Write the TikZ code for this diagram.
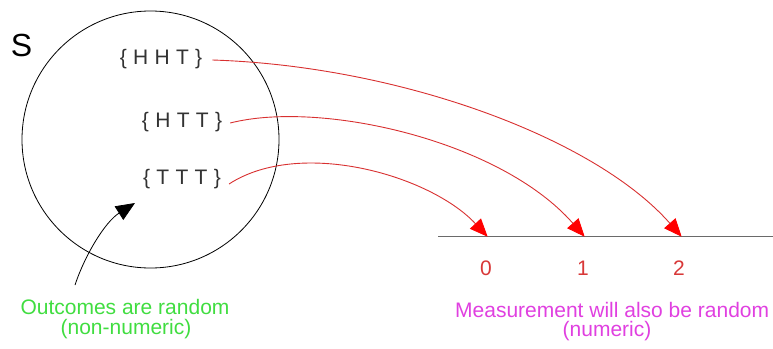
\documentclass[tikz,border=0pt]{standalone}
\usepackage{fontspec}
\setmainfont{Liberation Sans}
\usetikzlibrary{arrows.meta}
\definecolor{setgray}{HTML}{333333}
\definecolor{arrred}{HTML}{D83030}
\definecolor{headred}{HTML}{FF0000}
\definecolor{numred}{HTML}{D83838}
\definecolor{lgreen}{HTML}{40DD40}
\definecolor{lmag}{HTML}{E040E0}
\definecolor{axisgray}{HTML}{6A6A6A}
\newcommand{\outcometext}[1]{{\spaceskip=6.3pt plus 0pt minus 0pt\relax #1}}
\tikzset{
  settext/.style={text=setgray, inner sep=0pt, font=\fontsize{21}{24}\selectfont},
  maparrow/.style={draw=arrred, line width=0.9pt, -{Triangle[length=18pt,width=15pt,color=headred]}, shorten >=-1pt},
  numlabel/.style={text=numred, inner sep=0pt, font=\fontsize{21}{24}\selectfont},
  greentext/.style={text=lgreen, inner sep=0pt, font=\fontsize{21}{24}\selectfont},
  magtext/.style={text=lmag, inner sep=0pt, font=\fontsize{21}{24}\selectfont},
}
\begin{document}
\begin{tikzpicture}[x=1pt,y=-1pt]
\useasboundingbox (0,0) rectangle (773,348);
% sample space
\node[circle, draw=black, line width=0.8pt, minimum size=257pt, inner sep=0pt] (space) at (150.5,139.5) {};
\node[inner sep=0pt, font=\fontsize{32}{34}\selectfont] (S) at (21.5,45) {S};
% outcomes
\node[settext] (hht) at (161,59) {\outcometext{\{ H H T \}}};
\node[settext] (htt) at (182,122) {\outcometext{\{ H T T \}}};
\node[settext] (ttt) at (182,179) {\outcometext{\{ T T T \}}};
% axis
\coordinate (axL) at (438,236.5);
\coordinate (axR) at (773,236.5);
\draw[draw=axisgray, line width=1.6pt] (axL) -- (axR);
\coordinate (t0) at (487,236);
\coordinate (t1) at (584,236);
\coordinate (t2) at (681,236);
\node[numlabel] (n0) at (486,268) {0};
\node[numlabel] (n1) at (583,268) {1};
\node[numlabel] (n2) at (679,268) {2};
% mapping arrows
\draw[maparrow] ([xshift=10pt,yshift=-1pt]hht.east) .. controls (400,66) and (595,138) .. (t2);
\draw[maparrow] ([xshift=8pt,yshift=-1pt]htt.east) .. controls (320,100) and (500,140) .. (t1);
\draw[maparrow] ([xshift=8pt,yshift=-5pt]ttt.east) .. controls (300,138) and (430,175) .. (t0);
% labels
\node[greentext] (g1) at (125,307) {Outcomes are random};
\node[greentext] (g2) at (126,329) {(non-numeric)};
\node[magtext, anchor=west] (m1) at (455,310) {Measurement will also be random};
\node[magtext] (m2) at (607,331) {(numeric)};
% pointer arrow
\coordinate (pstart) at (75,285);
\coordinate (ptip) at (135,203);
\draw[black, line width=0.8pt, -{Triangle[length=19pt,width=16pt]}] (pstart) .. controls (85,255) and (105,222) .. (ptip);
\end{tikzpicture}
\end{document}
